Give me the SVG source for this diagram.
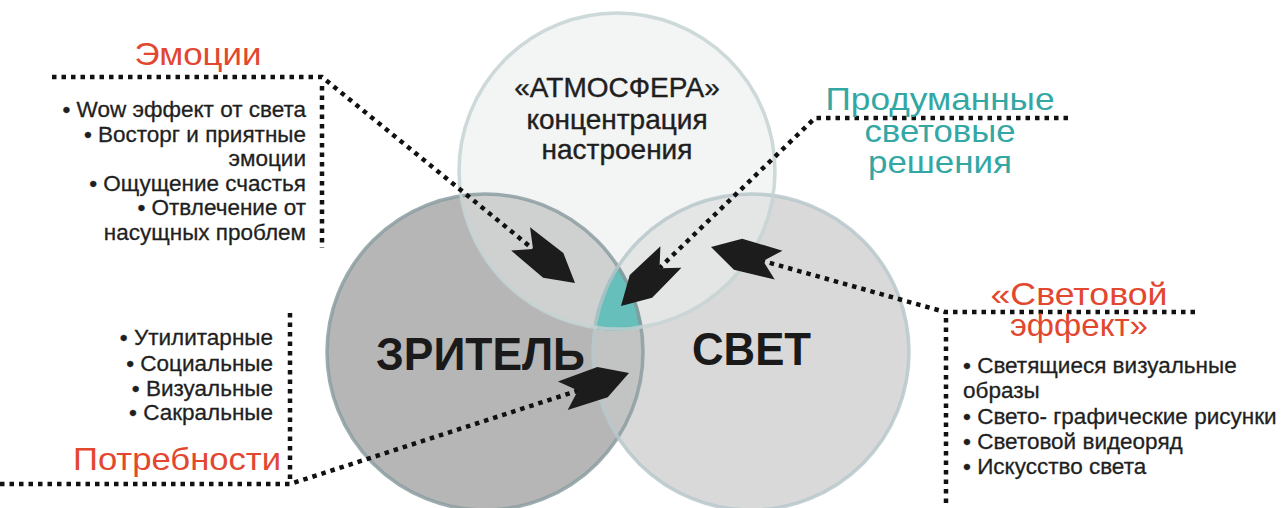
<svg xmlns="http://www.w3.org/2000/svg" width="1285" height="508" viewBox="0 0 1285 508">
<style>
.t{font-family:"Liberation Sans",Arial,sans-serif;fill:#1f1f1f}
.li{font-size:22.5px;stroke:#1f1f1f;stroke-width:0.3}
.hd{font-size:32px;fill:#e2472f}
.tl{font-size:32px;fill:#33a7a4}
.mid{font-size:28px;stroke:#1f1f1f;stroke-width:0.4}
.big{font-size:46px;font-weight:bold;fill:#1a1a1a}
.dot{fill:none;stroke:#111;stroke-width:4.5;stroke-dasharray:4.5 5}
.ah{fill:#1c1c1c}
</style>
<defs>
<clipPath id="cT"><circle cx="617" cy="171" r="158"/></clipPath>
<clipPath id="cR"><circle cx="751" cy="352" r="158"/></clipPath>
<path id="arrow" d="M0,0 L-28,-16 L-70,-15 L-54,0 L-70,15 L-28,16 Z"/>
</defs>
<rect width="1285" height="508" fill="#fff"/>

<g id="circles">
<g id="viewer">
<circle cx="485" cy="352" r="158" fill="#b6b6b6"/>
</g>
<g id="light">
<circle cx="751" cy="352" r="158" fill="#d9d9d9"/>
</g>
<g id="atmosphere">
<circle cx="617" cy="171" r="158" fill="#f3f4f4"/>
</g>
<circle cx="485" cy="352" r="158" fill="#c2c3c3" clip-path="url(#cR)"/>
<circle cx="485" cy="352" r="158" fill="#cfd0d0" clip-path="url(#cT)"/>
<circle cx="751" cy="352" r="158" fill="#e4e5e5" clip-path="url(#cT)"/>
<path id="core" d="M618,266.7 A158,158 0 0 0 594.9,327.4 A158,158 0 0 0 641,327.1 A158,158 0 0 0 618,266.7 Z" fill="#66bfbb" stroke="#43a4a1" stroke-width="3"/>
<circle cx="485" cy="352" r="158" fill="none" stroke="#8c9da1" stroke-width="3.5" stroke-opacity="0.85"/>
<circle cx="751" cy="352" r="158" fill="none" stroke="#b8c8cb" stroke-width="3.5" stroke-opacity="0.85"/>
<circle cx="617" cy="171" r="158" fill="none" stroke="#c6d2d4" stroke-width="3.5" stroke-opacity="0.85"/>
<text class="t mid" x="617" y="97" text-anchor="middle">«АТМОСФЕРА»</text>
<text class="t mid" x="617" y="129" text-anchor="middle">концентрация</text>
<text class="t mid" x="617" y="159" text-anchor="middle">настроения</text>
<text class="t big" x="376" y="370" textLength="209" lengthAdjust="spacingAndGlyphs">ЗРИТЕЛЬ</text>
<text class="t big" x="692" y="365" textLength="119" lengthAdjust="spacingAndGlyphs">СВЕТ</text>
</g>

<g id="connectors">
<path class="dot" d="M52,77 H322 L533,249"/>
<path class="dot" d="M322,86 V248"/>
<path class="dot" d="M1068,118 H815 L659.5,268"/>
<path class="dot" d="M1195,312 H945 L763,261"/>
<path class="dot" d="M946,318 V508"/>
<path class="dot" d="M0,484 H290 L578,390.6"/>
<path class="dot" d="M290,313 V480"/>
<use href="#arrow" class="ah" transform="translate(575,283) rotate(39)"/>
<use href="#arrow" class="ah" transform="translate(621,306) rotate(135.5)"/>
<use href="#arrow" class="ah" transform="translate(711,247) rotate(195)"/>
<use href="#arrow" class="ah" transform="translate(629,373) rotate(-19)"/>
</g>

<g id="emotions">
<text class="t hd" x="198" y="65" text-anchor="middle" textLength="127" lengthAdjust="spacingAndGlyphs">Эмоции</text>
<text class="t li" x="306" y="117" text-anchor="end">• Wow эффект от света</text>
<text class="t li" x="306" y="142" text-anchor="end">• Восторг и приятные</text>
<text class="t li" x="306" y="166" text-anchor="end">эмоции</text>
<text class="t li" x="306" y="191" text-anchor="end">• Ощущение счастья</text>
<text class="t li" x="306" y="215" text-anchor="end">•  Отвлечение от</text>
<text class="t li" x="306" y="240" text-anchor="end">насущных проблем</text>
</g>

<g id="solutions">
<text class="t tl" x="940" y="110" text-anchor="middle" textLength="229" lengthAdjust="spacingAndGlyphs">Продуманные</text>
<text class="t tl" x="940" y="142" text-anchor="middle" textLength="151" lengthAdjust="spacingAndGlyphs">световые</text>
<text class="t tl" x="940" y="173" text-anchor="middle" textLength="144" lengthAdjust="spacingAndGlyphs">решения</text>
</g>

<g id="effect">
<text class="t hd" x="1079" y="305" text-anchor="middle" textLength="177" lengthAdjust="spacingAndGlyphs">«Световой</text>
<text class="t hd" x="1079" y="336" text-anchor="middle" textLength="138" lengthAdjust="spacingAndGlyphs">эффект»</text>
<text class="t li" x="963" y="373">• Светящиеся визуальные</text>
<text class="t li" x="963" y="398">образы</text>
<text class="t li" x="963" y="424">• Свето- графические рисунки</text>
<text class="t li" x="963" y="449">• Световой видеоряд</text>
<text class="t li" x="963" y="474">• Искусство света</text>
</g>

<g id="needs">
<text class="t li" x="273" y="345" text-anchor="end">• Утилитарные</text>
<text class="t li" x="273" y="371" text-anchor="end">• Социальные</text>
<text class="t li" x="273" y="396" text-anchor="end">• Визуальные</text>
<text class="t li" x="273" y="420" text-anchor="end">• Сакральные</text>
<text class="t hd" x="281" y="470" text-anchor="end" textLength="208" lengthAdjust="spacingAndGlyphs">Потребности</text>
</g>
</svg>
